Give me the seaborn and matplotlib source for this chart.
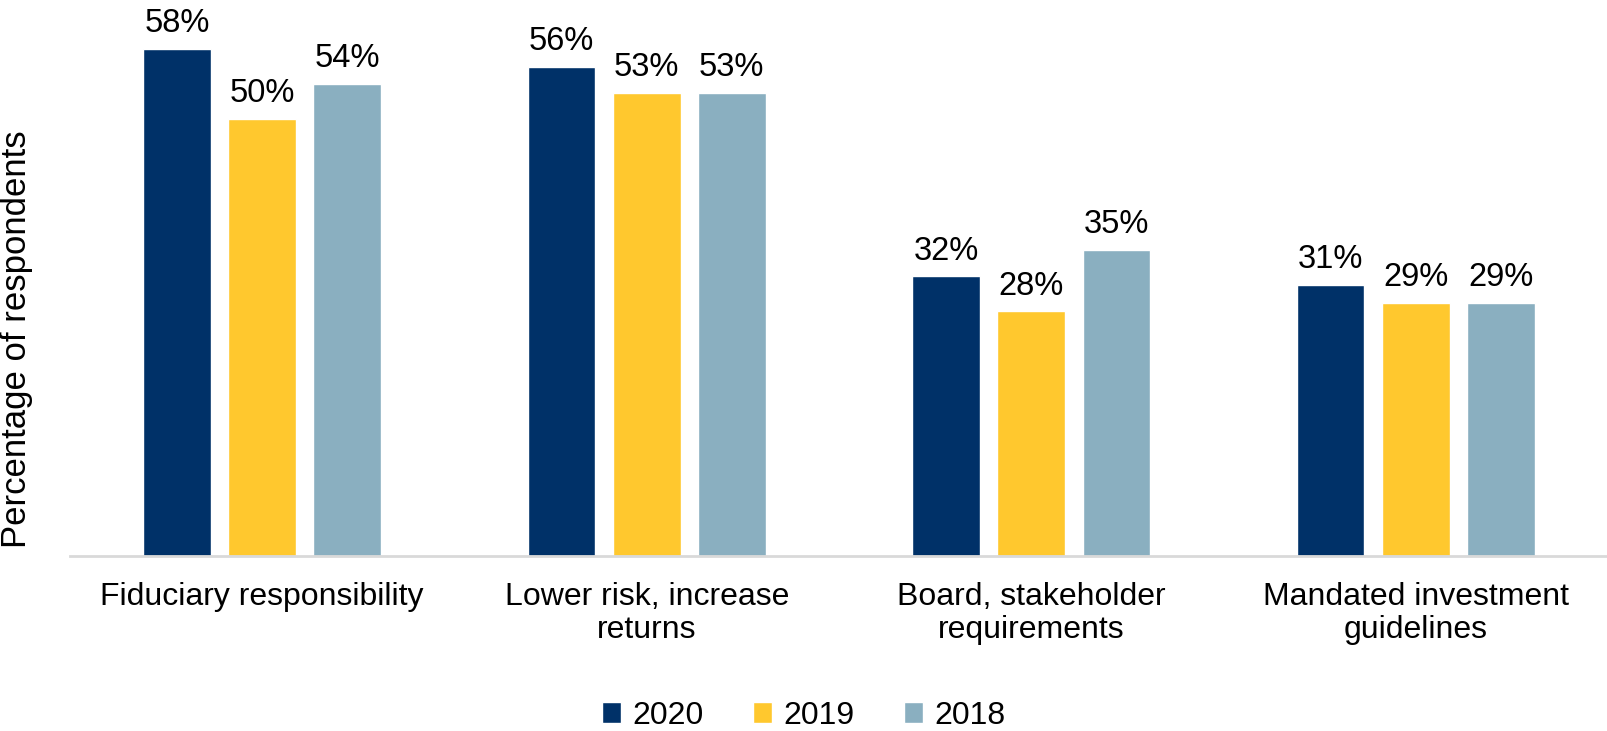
import matplotlib
matplotlib.use("Agg")
import matplotlib.pyplot as plt
import pandas as pd
import seaborn as sns

categories = ["Fiduciary responsibility", "Lower risk, increase\nreturns",
              "Board, stakeholder\nrequirements", "Mandated investment\nguidelines"]
years = ["2020", "2019", "2018"]
values_2020 = [58, 56, 32, 31]
values_2019 = [50, 53, 28, 29]
values_2018 = [54, 53, 35, 29]
colors = ["#003168", "#FFC82E", "#8AAFC0"]

rows = []
for year, vals in zip(years, [values_2020, values_2019, values_2018]):
    for cat, v in zip(categories, vals):
        rows.append({"category": cat, "year": year, "value": v})
df = pd.DataFrame(rows)

sns.set_style("white")
plt.rcParams["font.family"] = ["Liberation Sans", "DejaVu Sans"]
plt.rcParams["text.color"] = "black"

fig = plt.figure(figsize=(16.08, 7.31), dpi=100)
ax = fig.add_axes([0.0435, 0.2394, 0.9565, 0.7172])

sns.barplot(data=df, x="category", y="value", hue="year", hue_order=years,
            palette=colors, width=0.664, gap=0.205, saturation=1, ax=ax)

for container in ax.containers:
    ax.bar_label(container, labels=[f"{v:.0f}%" for v in container.datavalues],
                 padding=7, fontsize=23.5, color="black", clip_on=False)

ax.set_ylim(0, 60)
ax.set_xlim(-0.5, 3.5)
ax.set_yticks([])
ax.set_xlabel("")
ax.set_ylabel("Percentage of respondents", fontsize=25, color="black")
ax.yaxis.set_label_coords(-0.024, 0.414)
ax.tick_params(axis="x", length=0, labelsize=23, labelcolor="black", pad=19)
for lbl in ax.get_xticklabels():
    lbl.set_linespacing(1.1)
for side in ["top", "right", "left"]:
    ax.spines[side].set_visible(False)
ax.spines["bottom"].set_color("#D9D9D9")
ax.spines["bottom"].set_linewidth(2)

ax.legend(loc="center", bbox_to_anchor=(0.477, -0.305), ncol=3, frameon=False,
          fontsize=23, handlelength=0.6, handleheight=0.6, columnspacing=1.55,
          handletextpad=0.35)

fig.savefig("out.png", dpi=100)
